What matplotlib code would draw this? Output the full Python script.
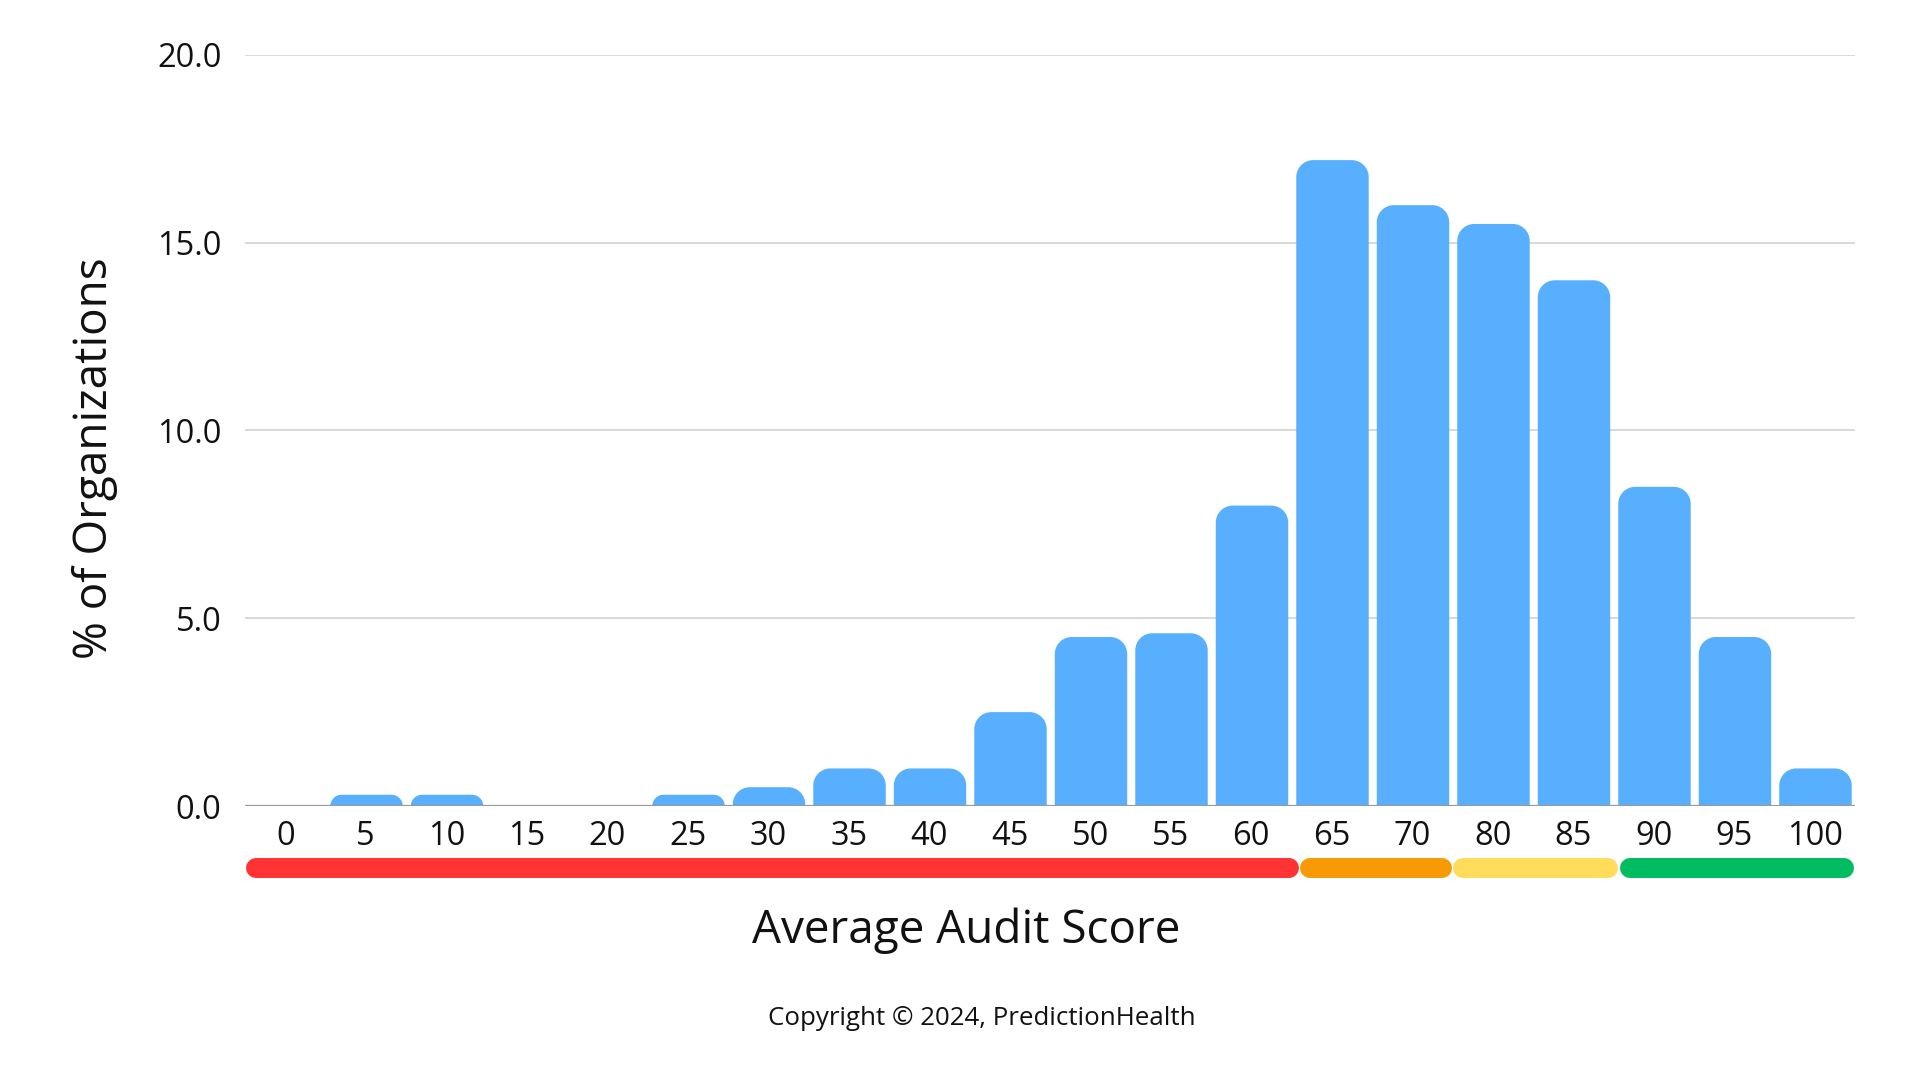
import matplotlib
matplotlib.use('Agg')
import matplotlib.pyplot as plt
import matplotlib.transforms as mtransforms
from matplotlib.path import Path
from matplotlib.patches import PathPatch


# Data
# ----

scores = ['0', '5', '10', '15', '20', '25', '30', '35', '40', '45', '50',
          '55', '60', '65', '70', '80', '85', '90', '95', '100']
percent = [0.0, 0.3, 0.3, 0.0, 0.0, 0.3, 0.5, 1.0, 1.0, 2.5, 4.5,
           4.6, 8.0, 17.2, 16.0, 15.5, 14.0, 8.5, 4.5, 1.0]
yticks = [0.0, 5.0, 10.0, 15.0, 20.0]

# score bands shown under the axis (edges in category units)
band_edges = [-0.5, 12.6, 14.5, 16.57, 19.5]
band_colors = ['#ff3333', '#f79a06', '#ffdd5a', '#00bd62']


# Style
# -----

plt.rcParams['font.family'] = ['Open Sans', 'DejaVu Sans']
BLUE = '#57affd'
TEXT = '#111111'


def rounded_bar(ax, xc, h, width, rpx):
    """Add a bar with rounded top corners, radius given in pixels."""
    if h <= 0:
        return
    # pixel size of one data unit
    p0 = ax.transData.transform((0, 0))
    p1 = ax.transData.transform((1, 1))
    pxx, pxy = p1[0] - p0[0], p1[1] - p0[1]
    r = min(rpx, h * pxy)
    rx, ry = r / pxx, r / pxy
    k = 0.5523
    x0, x1 = xc - width / 2, xc + width / 2
    verts = [(x0, 0), (x0, h - ry),
             (x0, h - ry + k * ry), (x0 + rx - k * rx, h), (x0 + rx, h),
             (x1 - rx, h),
             (x1 - rx + k * rx, h), (x1, h - ry + k * ry), (x1, h - ry),
             (x1, 0), (x0, 0)]
    codes = [Path.MOVETO, Path.LINETO,
             Path.CURVE4, Path.CURVE4, Path.CURVE4,
             Path.LINETO,
             Path.CURVE4, Path.CURVE4, Path.CURVE4,
             Path.LINETO, Path.CLOSEPOLY]
    ax.add_patch(PathPatch(Path(verts, codes), fc=BLUE, ec='none', zorder=3))


# Figure
# ------

fig = plt.figure(figsize=(19.2, 10.8), dpi=100)
ax = fig.add_axes([0.1276, 0.2537, 0.8385, 0.6954])
ax.set_xlim(-0.5, len(scores) - 0.5)
ax.set_ylim(0, 20)

# grid and baseline
for s in ax.spines.values():
    s.set_visible(False)
ax.set_yticks(yticks)
ax.set_yticklabels(['%.1f' % v for v in yticks])
ax.grid(axis='y', color='#d6d6d6', lw=1.3, zorder=0)
ax.axhline(0, color='#9a9a9a', lw=1.6, zorder=4)
ax.set_xticks(range(len(scores)))
ax.set_xticklabels(scores)
ax.tick_params(axis='both', length=0, labelsize=23.5, colors=TEXT)
ax.tick_params(axis='y', pad=17)
ax.tick_params(axis='x', pad=10)

# rounded bars
for i, v in enumerate(percent):
    rounded_bar(ax, i + 0.01, v, 0.9, 17)

# score bands below the tick labels
trans = mtransforms.blended_transform_factory(ax.transData, ax.transAxes)
cap = 10.0 / (ax.transData.transform((1, 0))[0] - ax.transData.transform((0, 0))[0])
for x0, x1, c in zip(band_edges[:-1], band_edges[1:], band_colors):
    ax.plot([x0 + cap + 0.01, x1 - cap - 0.01], [-0.0826, -0.0826], color=c,
            lw=14.4, solid_capstyle='round', transform=trans, clip_on=False)

# labels
fig.text(0.503, 0.1385, 'Average Audit Score', fontsize=33,
         ha='center', va='center', color=TEXT)
fig.text(0.0495, 0.5759, '% of Organizations', fontsize=33, rotation=90,
         ha='center', va='center', color=TEXT)
fig.text(0.5115, 0.0565, 'Copyright \u00a9 2024, PredictionHealth',
         fontsize=18.6, ha='center', va='center', color=TEXT)

fig.savefig('out.png', dpi=100, facecolor='white')
